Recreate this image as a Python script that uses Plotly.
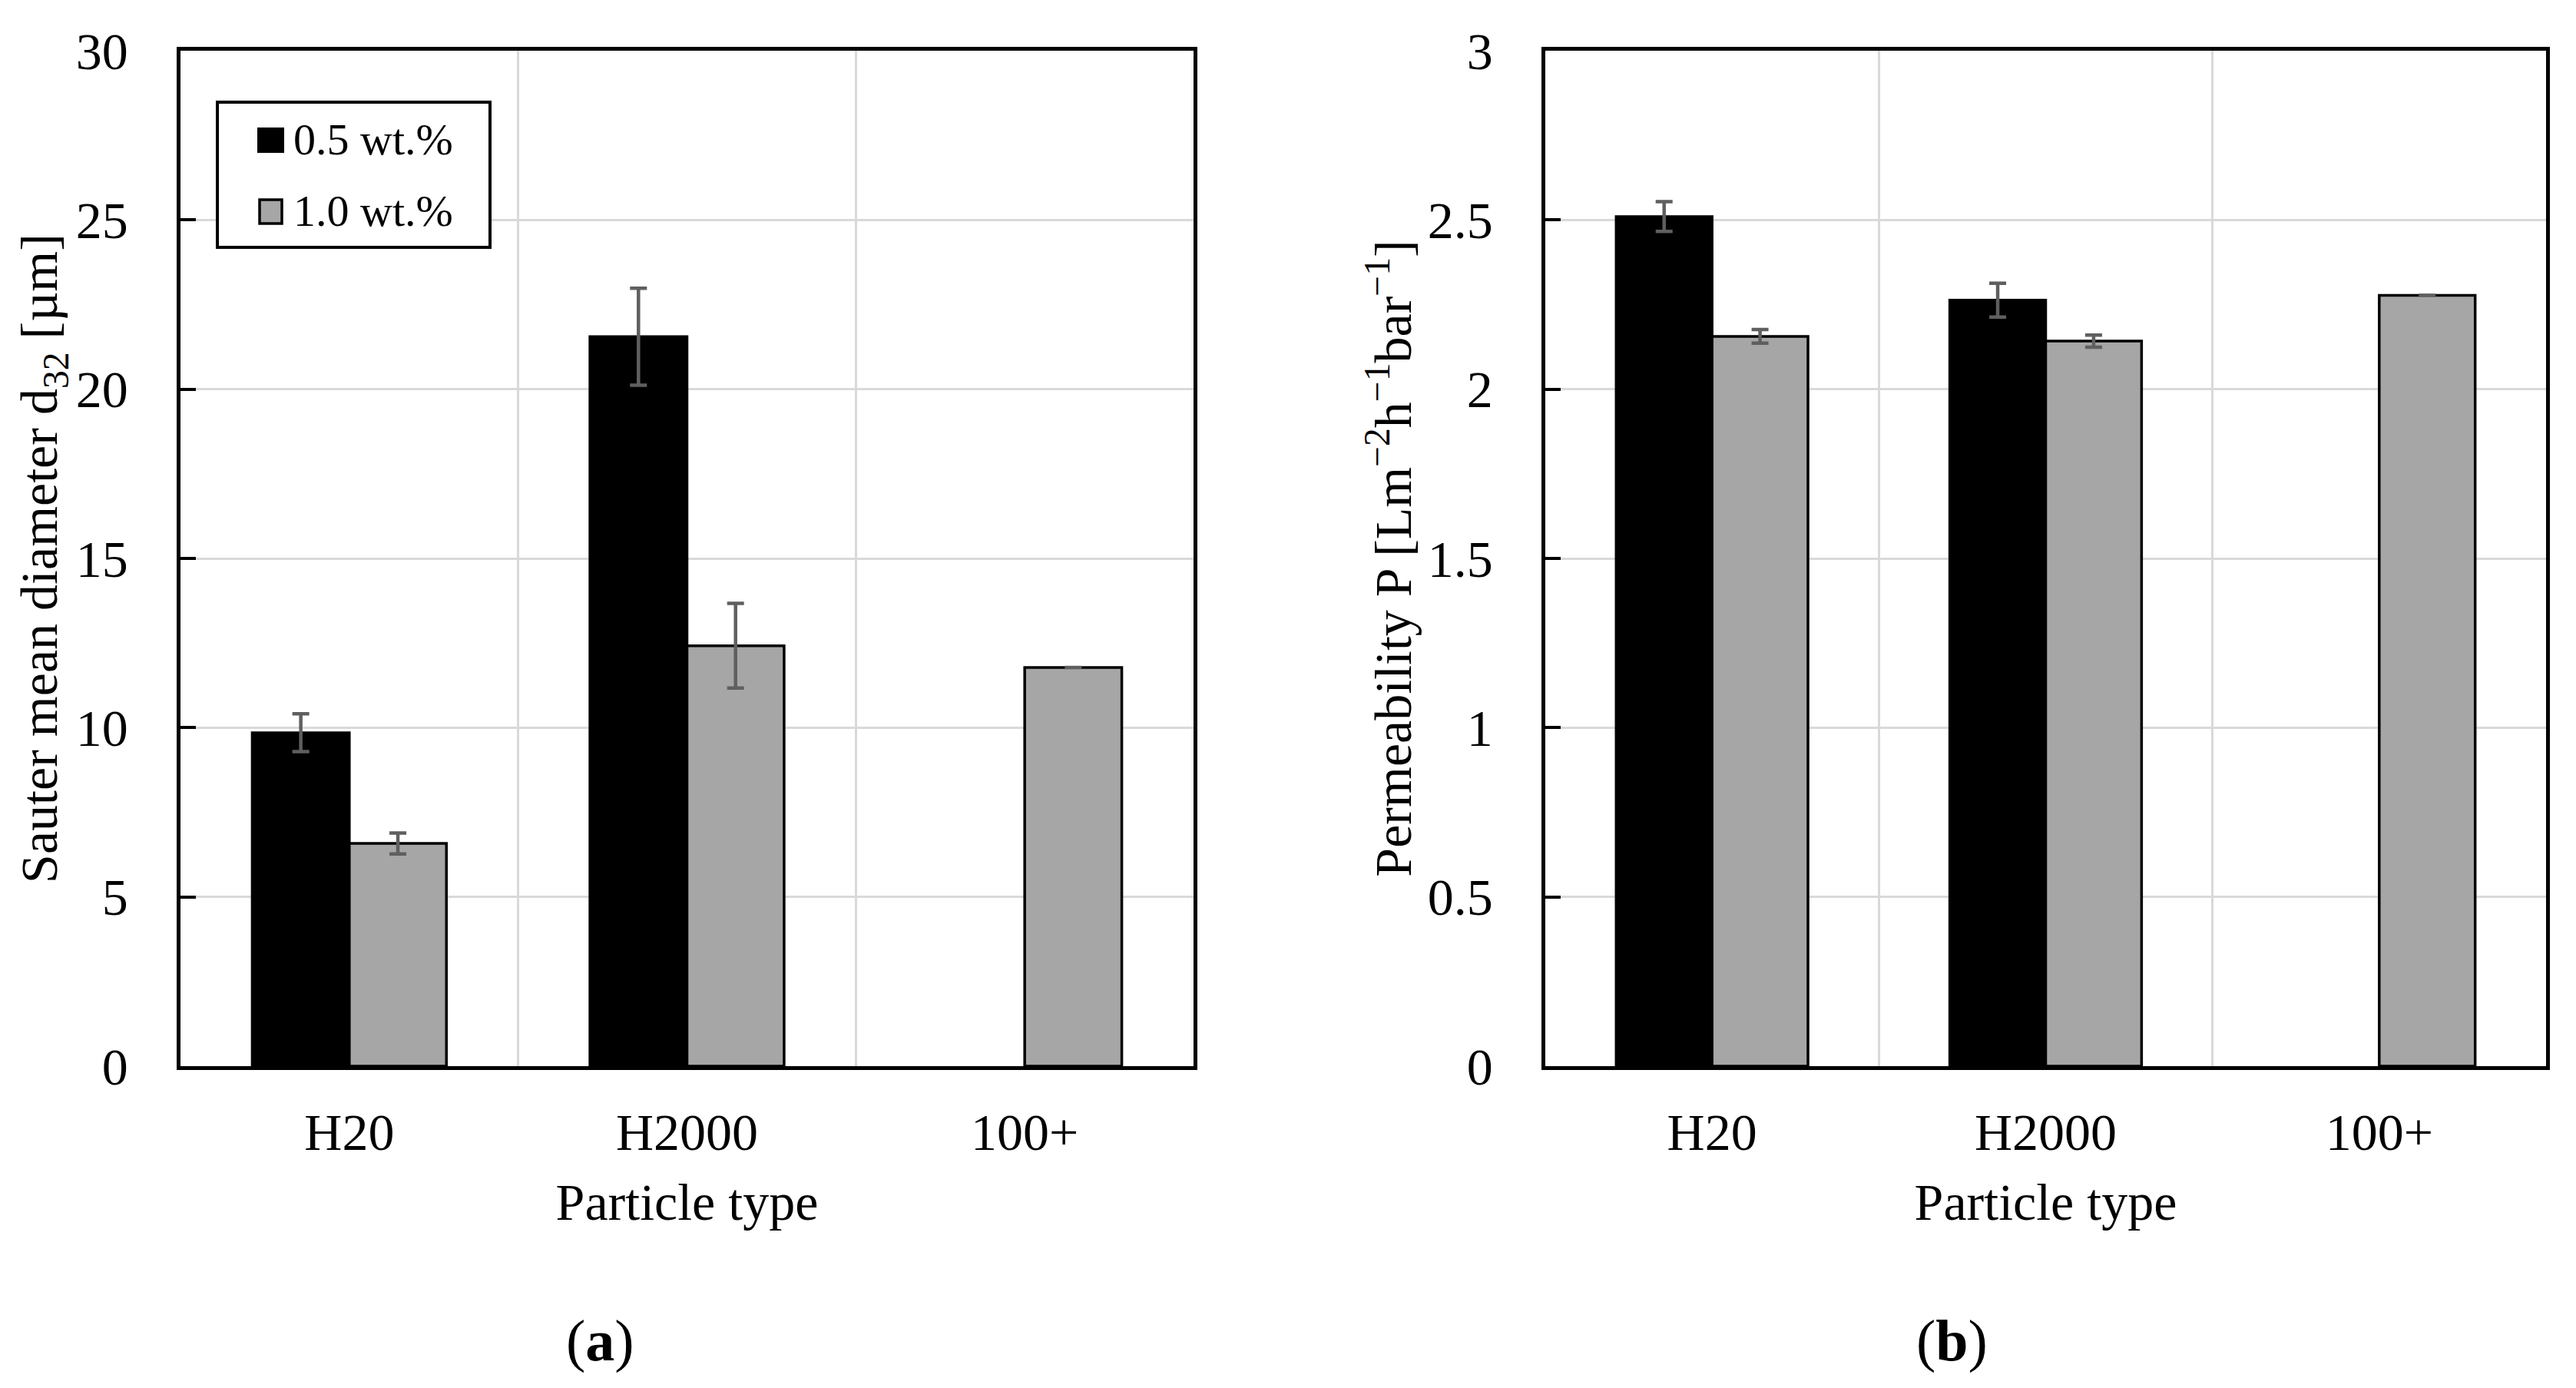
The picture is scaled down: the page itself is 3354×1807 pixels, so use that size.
import plotly.graph_objects as go

categories = ["H20", "H2000", "100+"]

d32_05 = [9.85, 21.55, None]
d32_05_err = [0.56, 1.43, None]
d32_10 = [6.58, 12.42, 11.78]
d32_10_err = [0.31, 1.25, None]

perm_05 = [2.51, 2.263, None]
perm_05_err = [0.044, 0.05, None]
perm_10 = [2.156, 2.142, 2.277]
perm_10_err = [0.02, 0.018, None]

series_names = ["0.5 wt.%", "1.0 wt.%"]
y1_ticks = [0, 5, 10, 15, 20, 25, 30]
y2_ticks = [0, 0.5, 1, 1.5, 2, 2.5, 3]
y2_ticktext = ["0", "0.5", "1", "1.5", "2", "2.5", "3"]

FONT = "Liberation Serif"
BLACK = "#000000"
GRAY = "#a6a6a6"
ERR = "#5f5f5f"
GRID = "#d9d9d9"
FS = 68

# page body has an 8px margin: work in page coordinates, convert to figure coords
OFF = 8
W, H = 3354 - 2 * OFF, 1807 - 2 * OFF


def fx(px):
    return (px - OFF) / W


def fy(py):
    return (H - (py - OFF)) / H


fig = go.Figure()


def add_bars(xa, ya, vals, errs, color, name):
    fig.add_trace(go.Bar(
        x=categories, y=vals, name=name, xaxis=xa, yaxis=ya,
        marker=dict(color=color, line=dict(color=BLACK, width=3.5)),
        error_y=dict(type="data", array=errs, visible=True, color=ERR,
                     thickness=4.5, width=11),
        showlegend=False,
    ))


add_bars("x", "y", d32_05, d32_05_err, BLACK, series_names[0])
add_bars("x", "y", d32_10, d32_10_err, GRAY, series_names[1])
add_bars("x2", "y2", perm_05, perm_05_err, BLACK, series_names[0])
add_bars("x2", "y2", perm_10, perm_10_err, GRAY, series_names[1])

L1, R1 = 235, 1554
L2, R2 = 2012, 3315
T, B = 66, 1388

xcommon = dict(
    type="category", range=[-0.5, 2.5], tickson="boundaries",
    showgrid=True, gridcolor=GRID, gridwidth=3,
    showline=True, linecolor=BLACK, linewidth=4.5, mirror=True,
    ticks="", tickfont=dict(family=FONT, size=FS, color=BLACK),
    ticklabelstandoff=23, automargin=False,
    title=dict(text="Particle type", font=dict(family=FONT, size=FS, color=BLACK),
               standoff=31),
)
ycommon = dict(
    showgrid=True, gridcolor=GRID, gridwidth=3,
    showline=True, linecolor=BLACK, linewidth=4.5, mirror=True,
    ticks="inside", ticklen=20, tickwidth=4, tickcolor=BLACK,
    tickfont=dict(family=FONT, size=FS, color=BLACK),
    ticklabelstandoff=50, zeroline=False, automargin=False,
)

fig.update_layout(
    width=W, height=H,
    margin=dict(l=0, r=0, t=0, b=0, autoexpand=False),
    paper_bgcolor="white", plot_bgcolor="white",
    barmode="group", bargap=0.425, bargroupgap=0,
    font=dict(family=FONT, color=BLACK),
    xaxis=dict(domain=[fx(L1), fx(R1)], anchor="y", **xcommon),
    xaxis2=dict(domain=[fx(L2), fx(R2)], anchor="y2", **xcommon),
    yaxis=dict(domain=[fy(B), fy(T)], anchor="x", range=[0, 30],
               tickvals=y1_ticks,
               title=dict(text="Sauter mean diameter d<sub>32</sub> [µm]",
                          font=dict(family=FONT, size=FS, color=BLACK), standoff=2),
               **ycommon),
    yaxis2=dict(domain=[fy(B), fy(T)], anchor="x2", range=[0, 3],
                tickvals=y2_ticks, ticktext=y2_ticktext,
                title=dict(text="Permeability P [Lm<sup>−2</sup>h<sup>−1</sup>bar<sup>−1</sup>]",
                           font=dict(family=FONT, size=FS, color=BLACK), standoff=0),
                **ycommon),
)

# custom legend inside the left panel
pw = R1 - L1
ph = B - T


def dx(px):
    return (px - L1) / pw


def dy(py):
    return (B - py) / ph


fig.add_shape(type="rect", xref="x domain", yref="y domain",
              x0=dx(283), x1=dx(638), y0=dy(322), y1=dy(133),
              line=dict(color=BLACK, width=4), fillcolor="white", layer="above")
fig.add_shape(type="rect", xref="x domain", yref="y domain",
              x0=dx(336), x1=dx(369), y0=dy(198), y1=dy(167),
              line=dict(color=BLACK, width=2), fillcolor=BLACK, layer="above")
fig.add_shape(type="rect", xref="x domain", yref="y domain",
              x0=dx(338), x1=dx(367), y0=dy(291), y1=dy(260),
              line=dict(color=BLACK, width=3.5), fillcolor=GRAY, layer="above")
for name, ypx in zip(series_names, [182, 275]):
    fig.add_annotation(xref="x domain", yref="y domain", x=dx(380), y=dy(ypx),
                       text=name, showarrow=False, xanchor="left", yanchor="middle",
                       font=dict(family=FONT, size=58, color=BLACK))

# panel labels
for lab, xpx in [("a", 781), ("b", 2541)]:
    fig.add_annotation(xref="paper", yref="paper", x=fx(xpx), y=fy(1745),
                       text="(<b>%s</b>)" % lab, showarrow=False,
                       xanchor="center", yanchor="middle",
                       font=dict(family=FONT, size=76, color=BLACK))

fig.write_html("out.html")
